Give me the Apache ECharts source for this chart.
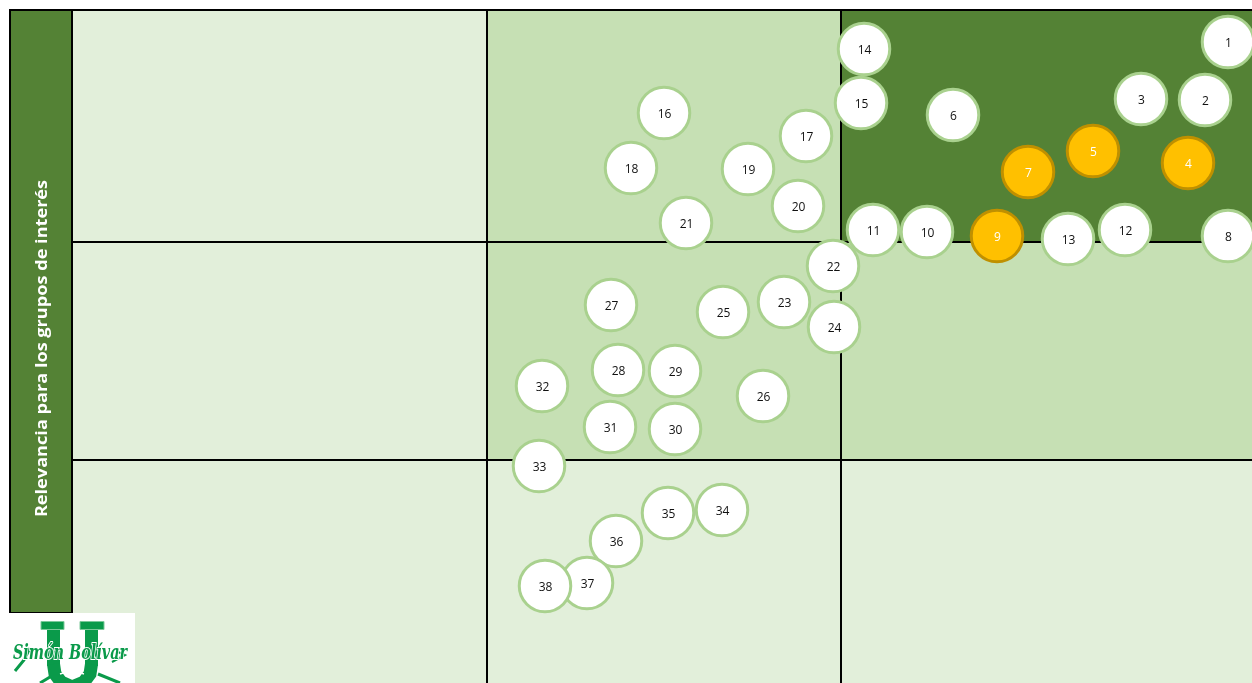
<!DOCTYPE html>
<html><head><meta charset="utf-8">
<style>html,body{margin:0;padding:0;background:#fff}#c{width:1252px;height:683px}</style>
<script src="https://cdn.jsdelivr.net/npm/echarts@6/dist/echarts.min.js"></script>
</head><body><div id="c"></div>
<script>
const axisTitle = 'Relevancia para los grupos de interés';
const pointIds = [1,2,3,4,5,6,7,8,9,10,11,12,13,14,15,16,17,18,19,20,21,22,23,24,25,26,27,28,29,30,31,32,33,34,35,36,37,38];
const xValues = [1228,1205,1141,1188,1093,953,1028,1228,997,927,873,1125,1068,864,861,664,806,631,748,798,686,833,784,834,723,763,611,618,675,675,610,542,539,722,668,616,587,545];
const yValues = [42,100,99,163,151,115,172,236,236,232,230,230,239,49,103,113,136,168,169,206,223,266,302,327,312,396,305,370,371,429,427,386,466,510,513,541,583,586];
const highlighted = [4,5,7,9];
const xRange = [72,1252];
const yRange = [10,683];
const xSplits = [487,841];
const ySplits = [242,460];

const LIGHT='#E2EFDA', MID='#C6E0B4', DARK='#548235';
const xE=[xRange[0],xSplits[0],xSplits[1],xRange[1]];
const yE=[yRange[0],ySplits[0],ySplits[1],yRange[1]];
const zoneColors=[[LIGHT,MID,DARK],[LIGHT,MID,MID],[LIGHT,LIGHT,LIGHT]];
const zones=[];
zoneColors.forEach((row,r)=>row.forEach((col,c)=>zones.push([
  {xAxis:xE[c],yAxis:yE[r],itemStyle:{color:col}},{xAxis:xE[c+1],yAxis:yE[r+1]}])));
const lines=[...xSplits.map(v=>({xAxis:v})),...ySplits.map(v=>({yAxis:v})),{yAxis:yRange[0]},{xAxis:xRange[0]}];

const G='#0A9A4A';
const serif=(x,w)=>({type:'rect',z:8,shape:{x:x,y:621.5,width:w,height:8},style:{fill:G,stroke:'#7CC99A',lineWidth:1}});
const chart=echarts.init(document.getElementById('c'),null,{renderer:'canvas'});
chart.setOption({
  animation:false,
  grid:{left:72,right:0,top:10,bottom:0},
  xAxis:{type:'value',min:xRange[0],max:xRange[1],show:false},
  yAxis:{type:'value',min:yRange[0],max:yRange[1],inverse:true,show:false},
  series:[{
    type:'scatter',clip:false,symbol:'circle',symbolSize:51.5,
    data:pointIds.map((id,i)=>{
      const hi=highlighted.includes(id);
      return {value:[xValues[i],yValues[i]],name:String(id),
        itemStyle:{color:hi?'#FFC000':'#FFFFFF',borderColor:hi?'#BF9000':'#A9D18E',borderWidth:3},
        label:{color:hi?'#FFFFFF':'#111111'}};
    }),
    itemStyle:{opacity:1},
    label:{show:true,position:'inside',offset:[0.5,1.5],formatter:p=>p.name,fontFamily:'Open Sans',fontSize:12},
    markArea:{silent:true,z:1,data:zones},
    markLine:{silent:true,symbol:'none',z:2,label:{show:false},
      lineStyle:{color:'#000',width:2,type:'solid',opacity:1},data:lines}
  }],
  graphic:{elements:[
    {type:'rect',z:5,shape:{x:10,y:10,width:62,height:603},style:{fill:DARK,stroke:'#000',lineWidth:2}},
    {type:'text',z:6,x:42.5,y:348.5,rotation:Math.PI/2,scaleX:1.17,
      style:{text:axisTitle,fill:'#fff',font:'bold 15.5px "Open Sans"',align:'center',verticalAlign:'middle'}},
    {type:'rect',z:7,shape:{x:9,y:613,width:126,height:70},style:{fill:'#fff'}},
    // logo: serifed U and script wordmark
    {type:'rect',z:8,shape:{x:47,y:626,width:13,height:40},style:{fill:G}},
    {type:'rect',z:8,shape:{x:85,y:626,width:13,height:40},style:{fill:G}},
    serif(41,23), serif(80,24),
    {type:'polyline',z:8,shape:{points:[[53.5,664],[55,674],[61,682],[72,687],[84,682],[90,674],[91.5,664]]},style:{stroke:G,lineWidth:13,fill:null}},
    {type:'polyline',z:8,shape:{points:[[60,674],[72,670],[84,674]]},style:{stroke:'#fff',lineWidth:1.5,fill:null}},
    {type:'text',z:9,x:70,y:654,scaleX:0.72,
      style:{text:'Simón Bolívar',fill:G,stroke:'#fff',lineWidth:2,font:'italic bold 20px "DejaVu Serif"',align:'center',verticalAlign:'middle'}},
    {type:'polyline',z:8,shape:{points:[[15,671],[24,660],[30,648]]},style:{stroke:G,lineWidth:3,fill:null}},
    {type:'polyline',z:8,shape:{points:[[118,652],[125,655],[112,662]]},style:{stroke:G,lineWidth:2,fill:null}},
    {type:'line',z:8,shape:{x1:98,y1:674,x2:120,y2:683},style:{stroke:G,lineWidth:3}},
    {type:'line',z:8,shape:{x1:40,y1:683,x2:50,y2:677},style:{stroke:G,lineWidth:3}}
  ]}
});
</script></body></html>
